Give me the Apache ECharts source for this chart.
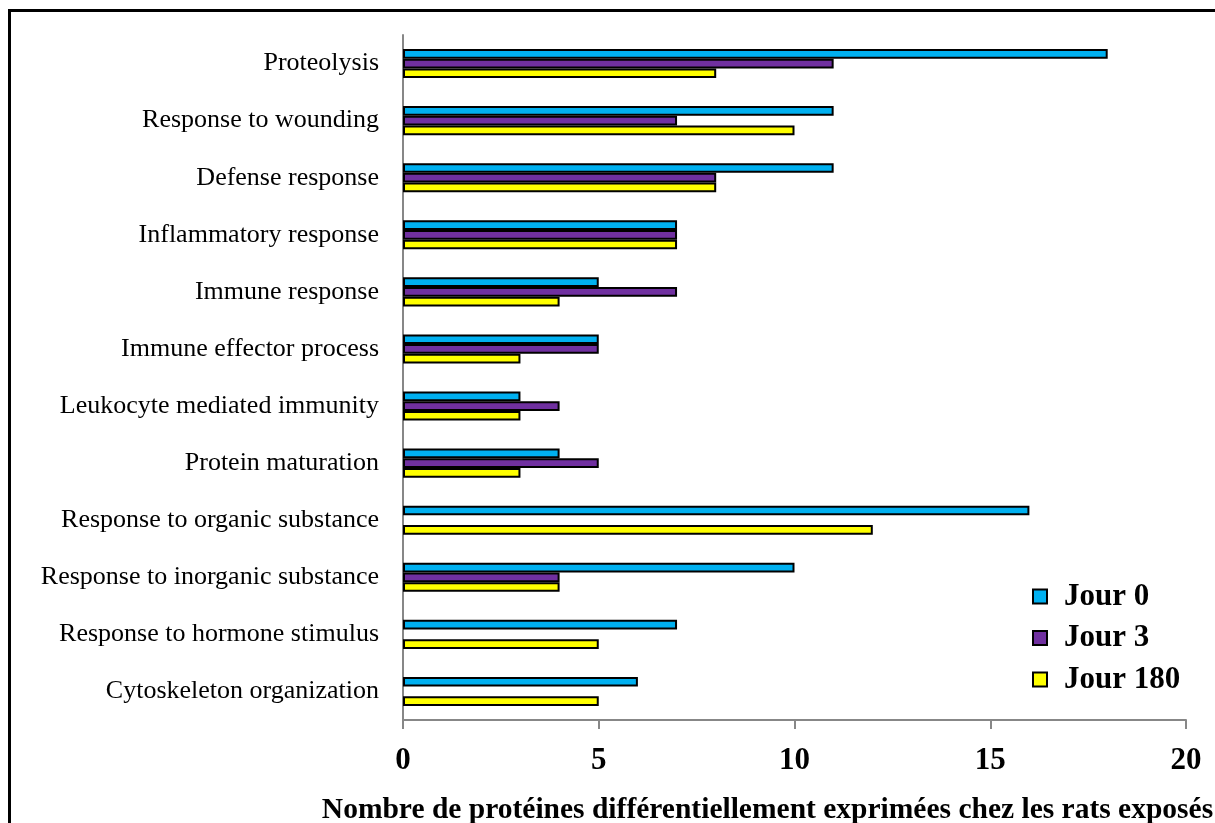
<!DOCTYPE html>
<html>
<head>
<meta charset="utf-8">
<script src="https://cdn.jsdelivr.net/npm/echarts@6/dist/echarts.min.js"></script>
<style>
    html, body { margin: 0; padding: 0; background: #ffffff; }
    #chart { width: 1215px; height: 823px; }
</style>
</head>
<body>
<div id="chart"></div>
<script>
// Biological process categories, top to bottom
const categories = [
    'Proteolysis',
    'Response to wounding',
    'Defense response',
    'Inflammatory response',
    'Immune response',
    'Immune effector process',
    'Leukocyte mediated immunity',
    'Protein maturation',
    'Response to organic substance',
    'Response to inorganic substance',
    'Response to hormone stimulus',
    'Cytoskeleton organization'
];

// protein counts per day (null = no bar drawn)
const jour0 = [18, 11, 11, 7, 5, 5, 3, 4, 16, 10, 7, 6];
const jour3 = [11, 7, 8, 7, 7, 5, 4, 5, null, 4, null, null];
const jour180 = [8, 10, 8, 7, 4, 3, 3, 3, 12, 4, 5, 5];

const seriesNames = ['Jour 0', 'Jour 3', 'Jour 180'];
const xTicks = [0, 5, 10, 15, 20];

const serif = '"Liberation Serif", "Times New Roman", serif';
const axisGray = '#878787';
const colors = ['#00b0f0', '#7030a0', '#ffff00'];

function makeSeries(name, data, color) {
    return {
        name: name,
        type: 'bar',
        data: data,
        barWidth: 9.7,
        barGap: '0%',
        itemStyle: {
            color: color,
            borderColor: '#000000',
            borderWidth: 2
        }
    };
}

const chart = echarts.init(document.getElementById('chart'));

chart.setOption({
    backgroundColor: '#ffffff',
    animation: false,
    textStyle: { fontFamily: serif, color: '#000000' },
    grid: {
        left: 403,
        right: 29,
        top: 35,
        bottom: 103,
        containLabel: false,
        outerBoundsMode: 'none'
    },
    legend: {
        orient: 'vertical',
        left: 1027,
        top: 576,
        itemWidth: 14,
        itemHeight: 14,
        itemGap: 10.5,
        icon: 'rect',
        data: seriesNames,
        textStyle: {
            fontFamily: serif,
            fontWeight: 'bold',
            fontSize: 31,
            color: '#000000',
            padding: [0, 0, 0, 12]
        }
    },
    xAxis: {
        type: 'value',
        min: xTicks[0],
        max: xTicks[xTicks.length - 1],
        interval: 5,
        axisLine: { show: true, lineStyle: { color: axisGray, width: 2 } },
        axisTick: { show: true, length: 9, lineStyle: { color: axisGray, width: 2 } },
        splitLine: { show: false },
        axisLabel: {
            margin: 25,
            fontFamily: serif,
            fontWeight: 'bold',
            fontSize: 31,
            color: '#000000'
        },
        name: 'Nombre de protéines différentiellement exprimées chez les rats exposés',
        nameLocation: 'middle',
        nameGap: 75,
        nameTextStyle: {
            fontFamily: serif,
            fontWeight: 'bold',
            fontSize: 29.5,
            color: '#000000',
            padding: [0, 54, 0, 0]
        }
    },
    yAxis: {
        type: 'category',
        inverse: true,
        data: categories,
        axisLine: { show: true, lineStyle: { color: axisGray, width: 2 } },
        axisTick: { show: false },
        splitLine: { show: false },
        axisLabel: {
            margin: 24,
            fontFamily: serif,
            fontSize: 26,
            color: '#000000'
        }
    },
    graphic: [{
        type: 'rect',
        silent: true,
        shape: { x: 9.5, y: 10.5, width: 1400, height: 1000 },
        style: { fill: 'none', stroke: '#000000', lineWidth: 3 }
    }],
    series: [
        makeSeries(seriesNames[0], jour0, colors[0]),
        makeSeries(seriesNames[1], jour3, colors[1]),
        makeSeries(seriesNames[2], jour180, colors[2])
    ]
});
</script>
</body>
</html>
